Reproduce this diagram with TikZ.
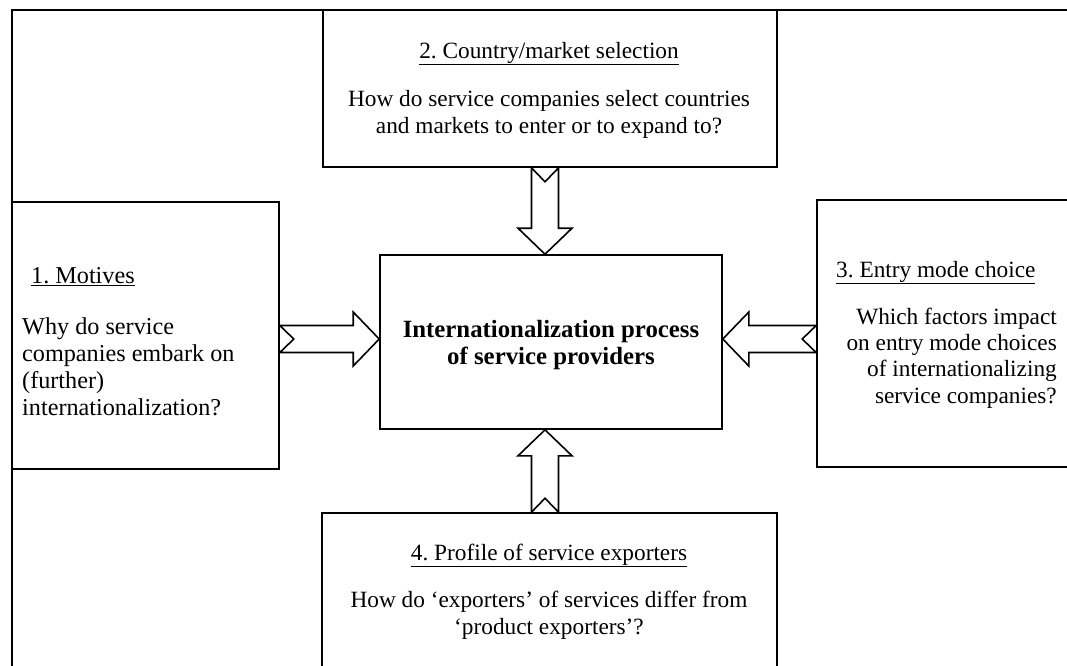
\documentclass[tikz,border=0pt]{standalone}
\usepackage{fontspec}
\setmainfont{Liberation Serif}
\usetikzlibrary{calc}
\frenchspacing
\tikzset{
  boxline/.style={draw, line width=1.6pt, rectangle, inner sep=0pt},
  txt/.style={inner sep=0pt, font=\fontsize{23.3}{26.3}\selectfont},
  txtl/.style={inner sep=0pt, font=\fontsize{24.2}{26.7}\selectfont},
  arrowline/.style={draw, line width=1.6pt, line join=miter},
}
\newcommand\blockarr[3]{%
  \coordinate (#1h) at ($(#3)!26pt!(#2)$);
  \coordinate (#1n) at ($(#2)!14pt!(#3)$);
  \draw[arrowline] ($(#2)!13.5pt!90:(#3)$) -- ($(#1h)!13.5pt!-90:(#2)$)
    -- ($(#1h)!27pt!-90:(#2)$) -- (#3) -- ($(#1h)!27pt!90:(#2)$)
    -- ($(#1h)!13.5pt!90:(#2)$) -- ($(#2)!13.5pt!-90:(#3)$) -- (#1n) -- cycle;
}
\begin{document}
\begin{tikzpicture}[x=1pt, y=-1pt]
\useasboundingbox (0,0) rectangle (1067,665);
\clip (0,0) rectangle (1067,665);
% outer frame
\draw[line width=1.6pt] (12,700) -- (12,10) -- (1100,10);
% boxes
\node[boxline, minimum width=454pt, minimum height=157pt] (topbox) at (550,88.5) {};
\node[boxline, minimum width=267pt, minimum height=267pt] (leftbox) at (145.5,335.5) {};
\node[boxline, minimum width=342pt, minimum height=174pt] (cbox) at (551,342) {};
\node[boxline, minimum width=273pt, minimum height=267pt] (rightbox) at (953.5,333.5) {};
\node[boxline, minimum width=455pt, minimum height=187pt] (botbox) at (549.5,606.5) {};
% guide coordinates
\coordinate (vx) at (545,0);
\coordinate (hy) at (0,339);
\coordinate (at1) at (topbox.south -| vx);
\coordinate (ap1) at (cbox.north -| vx);
\coordinate (at2) at (leftbox.east |- hy);
\coordinate (ap2) at (cbox.west |- hy);
\coordinate (at3) at (rightbox.west |- hy);
\coordinate (ap3) at (cbox.east |- hy);
\coordinate (at4) at (botbox.north -| vx);
\coordinate (ap4) at (cbox.south -| vx);
\blockarr{ar1}{at1}{ap1}
\blockarr{ar2}{at2}{ap2}
\blockarr{ar3}{at3}{ap3}
\blockarr{ar4}{at4}{ap4}
% texts (multi-line nodes: base anchor = last line's baseline)
\node[txt, anchor=base] (h2) at (549,58) {\underline{2. Country/market selection}};
\node[txt, anchor=base, align=center] (b2) at (549,133) {How do service companies select countries\\and markets to enter or to expand to?};
\node[txtl, anchor=base west] (h1) at (31,283) {\underline{1. Motives}};
\node[txtl, anchor=base west, align=left] (b1) at (22,415) {Why do service\\companies embark on\\(further)\\internationalization?};
\node[txt, anchor=base west] (h3) at (836,277) {\underline{3. Entry mode choice}};
\node[txt, anchor=base east, align=right] (b3) at (1057,403) {Which factors impact\\on entry mode choices\\of internationalizing\\service companies?};
\node[txt, anchor=base, align=center, font=\fontsize{24.8}{27}\selectfont\bfseries] (ct) at (551,364) {Internationalization process\\of service providers};
\node[txt, anchor=base] (h4) at (549,560) {\underline{4. Profile of service exporters}};
\node[txt, anchor=base, align=center] (b4) at (549,634) {How do ‘exporters’ of services differ from\\‘product exporters’?};
\end{tikzpicture}
\end{document}
